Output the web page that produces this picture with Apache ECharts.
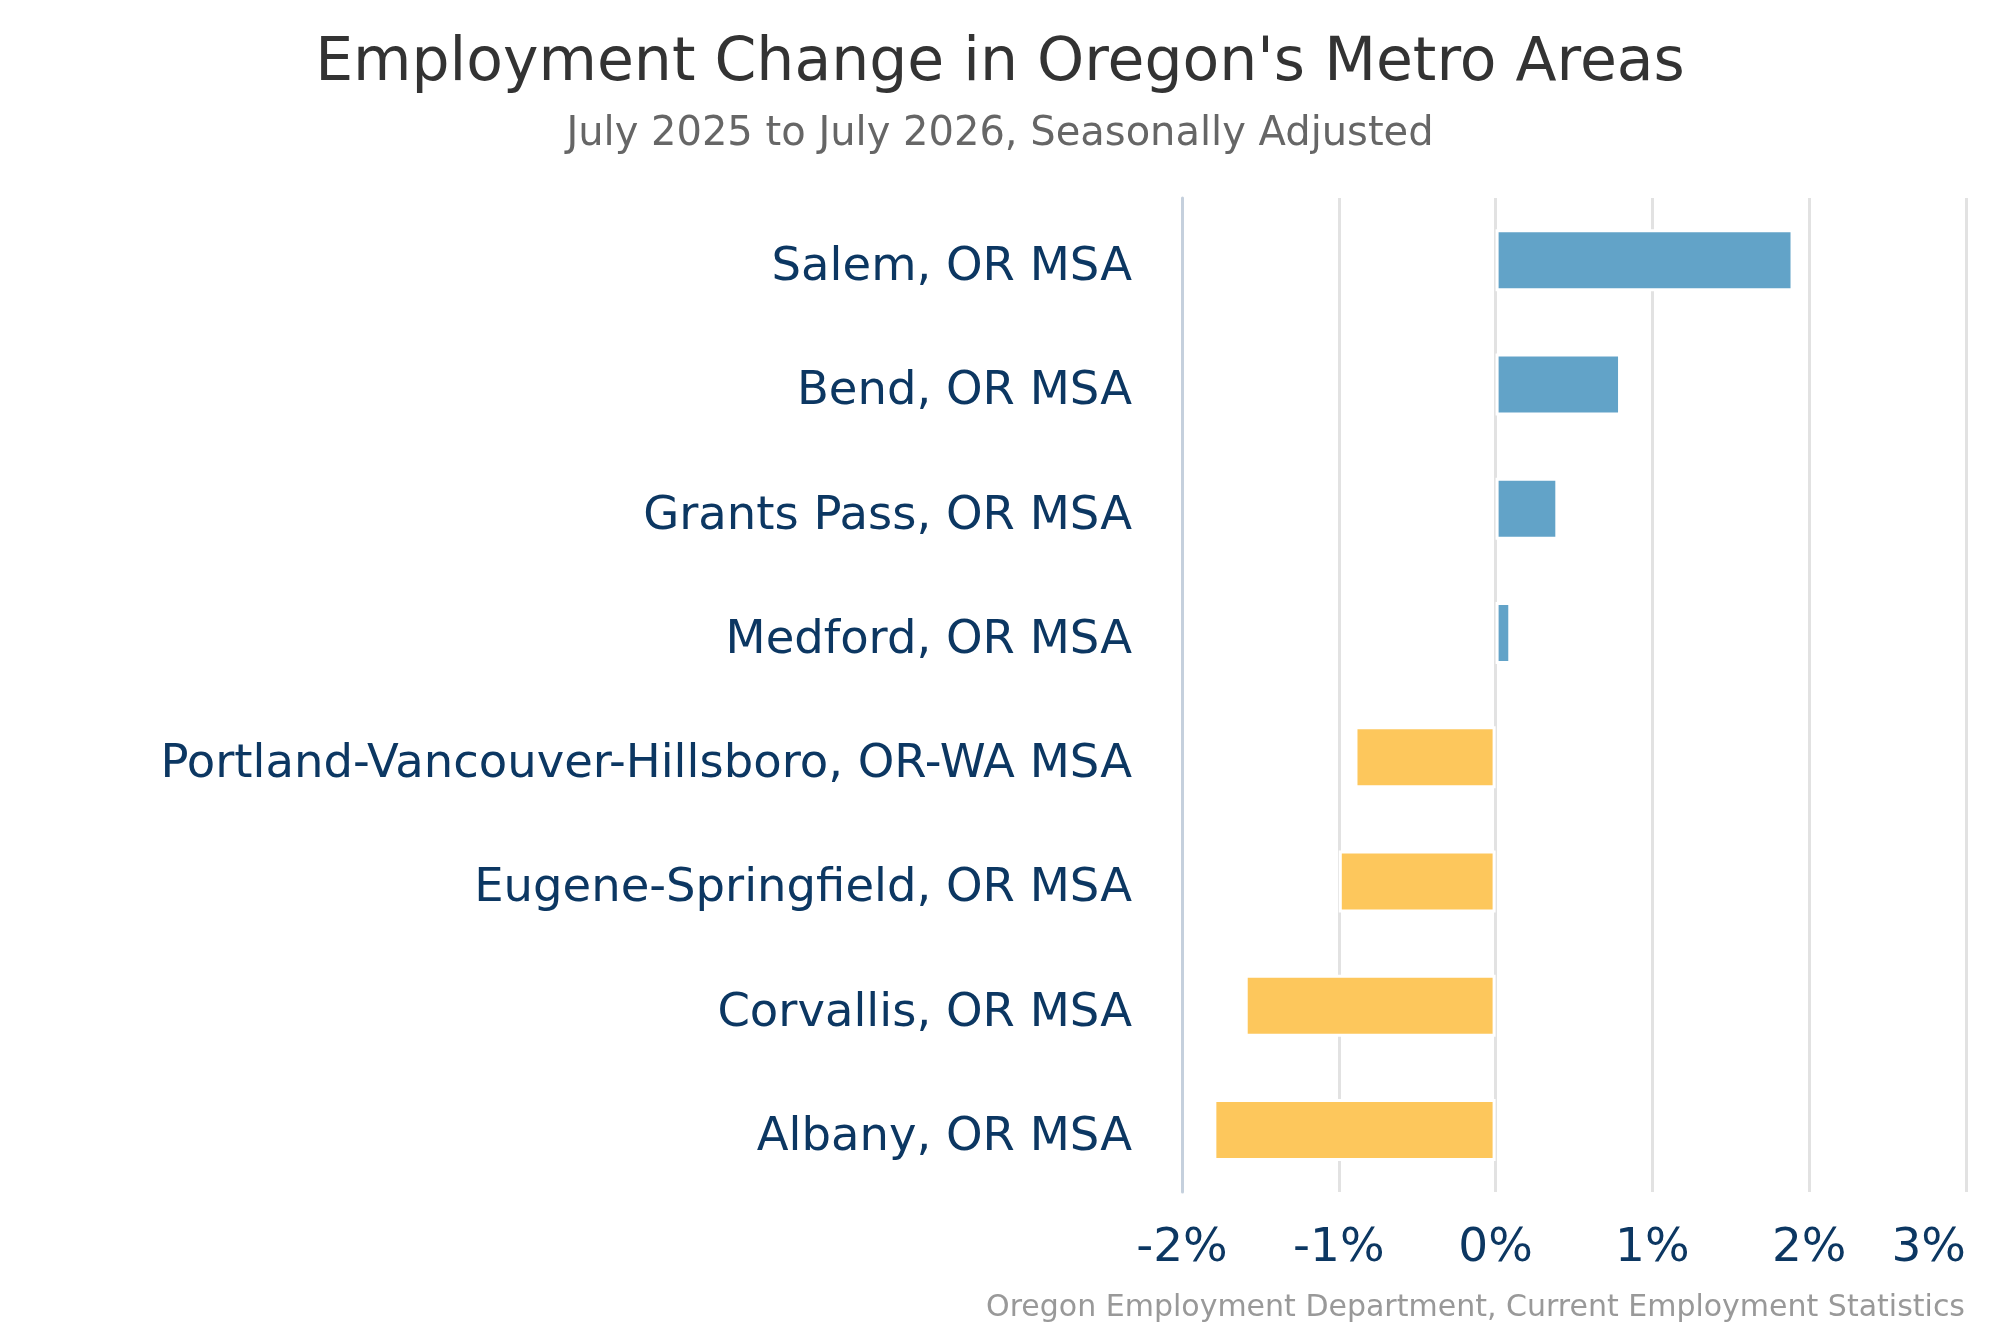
<!DOCTYPE html>
<html>
<head>
<meta charset="utf-8">
<title>Employment Change in Oregon's Metro Areas</title>
<script src="https://cdn.jsdelivr.net/npm/echarts@6/dist/echarts.min.js"></script>
<style>
    html, body { margin: 0; padding: 0; background: #fff; }
    #chart { width: 2000px; height: 1333px; }
</style>
</head>
<body>
<div id="chart"></div>
<script>
// metro areas, top to bottom
var areas = [
    'Salem, OR MSA',
    'Bend, OR MSA',
    'Grants Pass, OR MSA',
    'Medford, OR MSA',
    'Portland-Vancouver-Hillsboro, OR-WA MSA',
    'Eugene-Springfield, OR MSA',
    'Corvallis, OR MSA',
    'Albany, OR MSA'
];
// over-the-year change, percent
var change = [1.9, 0.8, 0.4, 0.1, -0.9, -1.0, -1.6, -1.8];

var titleText = "Employment Change in Oregon's Metro Areas";
var subText = 'July 2025 to July 2026, Seasonally Adjusted';
var sourceText = 'Oregon Employment Department, Current Employment Statistics';

var FONT = '"DejaVu Sans", sans-serif';
var NAVY = '#0c3762';
var UP = '#62a3c8';
var DOWN = '#fdc75c';

var chart = echarts.init(document.getElementById('chart'));

var option = {
    backgroundColor: '#ffffff',
    animation: false,
    title: [{
        text: titleText,
        left: 'center',
        top: 29,
        textStyle: { fontFamily: FONT, fontSize: 60, fontWeight: 'normal', color: '#333333' }
    }, {
        text: subText,
        left: 'center',
        top: 110,
        textStyle: { fontFamily: FONT, fontSize: 40, fontWeight: 'normal', color: '#666666' }
    }, {
        text: sourceText,
        right: 30,
        top: 1288,
        textStyle: { fontFamily: FONT, fontSize: 30, fontWeight: 'normal', color: '#999999' }
    }],
    grid: {
        left: 1182,
        right: 34,
        top: 198,
        bottom: 141,
        containLabel: false
    },
    xAxis: {
        type: 'value',
        min: -2,
        max: 3,
        interval: 1,
        axisLine: { show: false },
        axisTick: { show: false },
        splitLine: { show: true, lineStyle: { color: '#e2e2e2', width: 3 } },
        axisLabel: {
            formatter: '{value}%',
            fontFamily: FONT,
            fontSize: 47,
            color: NAVY,
            margin: 33,
            alignMaxLabel: 'right'
        }
    },
    yAxis: {
        type: 'category',
        data: areas,
        inverse: true,
        axisLine: { show: true, onZero: false, lineStyle: { color: '#c5d0dd', width: 3 } },
        axisTick: { show: false },
        splitLine: { show: false },
        axisLabel: {
            margin: 50,
            formatter: function (v) { return '{a|' + v + '}'; },
            rich: {
                a: {
                    fontFamily: FONT,
                    fontSize: 46.5,
                    color: NAVY,
                    padding: [16, 0, 0, 0]
                }
            }
        }
    },
    series: [{
        type: 'bar',
        data: change,
        barWidth: 62,
        itemStyle: {
            color: function (p) {
                return p.value >= 0 ? UP : DOWN;
            },
            borderColor: '#ffffff',
            borderWidth: 3
        }
    }]
};

chart.setOption(option);
</script>
</body>
</html>
